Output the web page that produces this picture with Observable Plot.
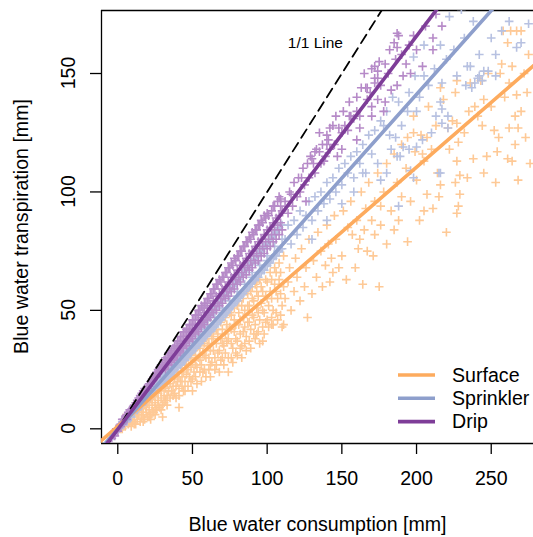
<!DOCTYPE html>
<html><head><meta charset="utf-8">
<script src="https://cdn.jsdelivr.net/npm/d3@7"></script>
<script src="https://cdn.jsdelivr.net/npm/@observablehq/plot@0.6"></script>
<style>body{margin:0;background:#fff}#chart{position:relative;width:533px;height:537px}</style>
</head><body><div id="chart"></div>
<script>
const seriesNames = ["Surface", "Sprinkler", "Drip"];
const lineColors = ["#fdab5e", "#8e9fcc", "#7e3d98"];
const pointColors = ["#fec996", "#b7c1e1", "#b68ac8"];
const xTicks = [0, 50, 100, 150, 200, 250];
const yTicks = [0, 50, 100, 150];
const xDomain = [-10.9, 278.3];
const yDomain = [-6.2, 176.6];
const fitSlopes = [0.547, 0.707, 0.83];
const fitIntercepts = [1.07, -0.2, -0.2];
const oneToOne = [[-20, -20], [300, 300]];
const annotations = [{label: "1/1 Line", x: 132.3, y: 162.7}];
const xTitle = "Blue water consumption [mm]";
const yTitle = "Blue water transpiration [mm]";

const surfacePts = [
[-3,-2],[-1,0],[0,-1],[1,1],[2,0],[3,2],[4,1],[5,3],[5,1],[6,4],[7,2],[8,5],[8,3],[9,1],[10,6],[10,3],[11,5],[12,2],[12,7],[13,4],[14,6],[14,8],[15,3],[16,7],[16,5],[17,9],[18,4],[18,10],[19,7],[20,5],[20,11],[21,8],[22,6],[22,13],[23,10],[24,7],[24,14],[25,11],[26,8],[26,15],[27,12],[28,9],[28,17],[29,13],[30,10],[30,5],[22,4],[25,6],[27,18],[19,12],[13,10],[6,6],[9,7],[16,12],[31,18],
[32,12],[32,17],[32,21],[33,14],[35,13],[35,19],[36,24],[36,16],[38,15],[38,21],[39,26],[39,18],[41,9],[41,17],[41,22],[42,27],[42,20],[44,16],[44,24],[45,29],[45,20],[47,18],[47,25],[48,31],[48,22],[50,16],[50,21],[50,28],[51,33],[51,24],[53,19],[53,26],[54,30],[54,35],[56,20],[56,27],[57,32],[57,37],[57,24],[59,22],[59,30],[60,35],[60,39],[62,22],[62,27],[62,33],[63,38],[63,41],[65,25],[65,30],[66,36],[66,42],[68,24],[68,33],[69,38],[69,45],[69,29],[71,27],[71,35],[72,40],[72,47],[74,24],[74,30],[74,38],[75,43],[75,49],[77,28],[77,34],[78,41],[78,46],[78,51],[80,31],[80,37],[81,44],[81,49],[81,54],[83,30],[83,35],[84,41],[84,47],[84,55],[86,33],[86,39],[87,45],[87,52],[87,57],[89,34],[89,42],[90,48],[90,55],[90,60],[92,38],[92,44],[93,51],[93,58],[93,62],[95,36],[95,46],[96,53],[96,60],[98,40],[98,49],[99,56],[99,63],[99,45],[101,43],[101,52],[102,58],[102,66],[104,44],[104,50],[105,61],[105,68],[107,46],[107,55],[108,63],[108,70],[110,43],[110,52],[111,60],[111,73],
[111,44],[103,44],[93,40],[97,37],[127,47],[142,62],[148,68],[153,63],[159,68],[143,72],[164,61],[175,60],[171,73],[167,75],[161,76],[162,80],[166,93],[176,94],[176,86],[170,88],[157,82],[188,88],[194,79],[202,88],[207,99],[211,93],[216,103],[220,83],[226,104],[227,113],[229,107],[234,106],[229,99],[228,94],[227,91],[247,115],[254,117],[253,104],[268,105],[261,114],[264,113],
[267,168],[263,168],[258,168],[261,163],[270,168],[257,154],[264,153],[256,150],[274,142],[267,141],[266,132],[262,127],[268,127],[273,123],[255,123],[228,121],[227,129],[245,139],[241,132],[235,134],[226,142],[213,128],[221,127],[207,123],[198,125],[194,123],[199,117],[204,116],[216,144],[243,147],[227,147],
[112,55],[114,62],[115,68],[116,50],[118,58],[119,72],[120,64],[122,54],[123,76],[125,60],[126,68],[128,80],[130,57],[131,71],[133,64],[134,83],[136,75],[137,60],[139,69],[140,86],[141,78],[144,66],[145,90],[146,80],[150,73],[151,92],[154,85],[156,96],[160,88],[163,100],[165,84],[168,104],[172,96],[174,108],[178,100],[180,112],[183,92],[185,116],[187,104],[190,120],[193,110],[196,96],[198,132],[200,105],[203,124],[205,113],[208,136],[210,118],[214,108],[218,139],[222,118],[224,130],[232,125],[236,146],[239,136],[244,128],[248,150],[250,136],[252,126],[259,140],[262,146],[266,120],[270,134],[275,158],[276,112],[272,150],[245,108],[238,114],[215,98],[205,92],[185,84],[180,78],[172,82],[190,98]
];
const surfaceDense = [
[3,0],[4,3],[7,4],[9,3],[11,2],[11,8],[13,6],[15,9],[17,6],[17,3],[19,9],[21,5],[21,12],[23,7],[23,13],[25,9],[25,15],[27,10],[27,15],[29,8],[29,16],[31,11],[31,14],[33,10],[33,19],[34,16],[35,22],[37,14],[37,18],[37,23],[39,13],[40,20],[40,24],[41,14],[43,18],[43,22],[43,27],[45,16],[46,23],[46,27],[47,30],[49,20],[49,26],[49,30],[50,34],[52,22],[52,27],[52,31],[53,36],[55,24],[55,29],[55,34],[56,38],[58,25],[58,31],[58,36],[59,40],[61,25],[61,30],[61,36],[61,41],[63,28],[64,33],[64,39],[64,44],[66,27],[67,32],[67,40],[67,45],[70,30],[70,36],[70,42],[70,48],[72,32],[73,37],[73,44],[73,50],[76,30],[76,36],[76,42],[76,48],[79,32],[79,38],[79,44],[80,52],[82,34],[82,40],[82,46],[83,52],[85,36],[85,43],[85,50],[86,58],[88,37],[88,45],[88,52],[89,58],[91,40],[91,47],[91,54],[92,61],[94,41],[94,49],[94,56],[95,63],[97,43],[97,50],[97,58],[100,46],[100,55],[100,62],[103,47],[103,55],[103,63],[106,49],[106,58],[106,66],[109,48],[109,57],[109,66]
];

const sprinklerPts = [
[-3,-3],[-1,-1],[0,0],[1,0],[2,1],[3,3],[4,2],[5,4],[6,3],[7,5],[8,6],[9,5],[10,7],[10,8],[11,7],[12,9],[13,8],[14,10],[15,11],[16,10],[17,12],[18,13],[19,12],[20,14],[21,15],[22,14],[23,16],[24,17],[25,16],[26,19],[27,18],[28,20],[29,19],[30,22],[30,20],
[32,20],[32,24],[34,22],[34,26],[36,23],[36,27],[38,25],[38,29],[40,26],[40,30],[42,27],[42,32],[44,29],[44,34],[46,30],[46,35],[48,32],[48,37],[50,33],[50,38],[52,34],[52,40],[54,36],[54,42],[56,37],[56,43],[58,39],[58,45],[60,40],[60,46],[62,41],[62,48],[64,43],[64,50],[66,44],[66,51],[68,46],[68,53],[70,47],[70,55],[72,49],[72,56],[74,50],[74,58],[76,52],[76,59],[78,53],[78,61],[80,54],[80,62],[82,56],[82,64],[84,57],[84,66],[86,59],[86,67],[88,60],[88,69],[90,62],[90,70],[92,63],[92,72],[94,64],[94,74],[96,66],[96,75],[98,67],[98,77],[100,69],[100,78],[102,70],[102,80],[104,72],[104,82],[106,73],[106,83],[108,75],[108,85],[110,76],[110,86],
[45,31],[55,39],[65,47],[75,54],[85,61],[95,69],[105,77],[35,25],[60,43],[70,51],[80,58],[90,66],[100,73],
[222,174],[230,177],[257,168],[275,171],[267,161],[242,158],[253,158],[236,153],[227,149],[248,151],[253,149],[242,149],[239,146],[244,147],[233,145],[237,144],[217,146],[205,149],[199,149],[198,157],[205,162],[216,162],[217,135],[213,132],[221,132],[217,129],[200,134],[194,134],[186,123],[191,119],[183,118],[189,115],[176,130],[180,134],[234,153],[241,148],[245,151],[216,138],[221,127],[216,108],[200,119],[204,122],[187,115],[198,106],
[112,80],[114,86],[116,78],[118,88],[120,82],[122,92],[124,85],[126,90],[128,96],[130,88],[132,98],[134,92],[136,100],[138,95],[140,104],[142,97],[144,106],[146,100],[148,110],[150,103],[152,112],[154,108],[156,115],[158,106],[160,117],[162,112],[164,120],[166,108],[168,124],[170,116],[172,126],[174,112],[178,128],[182,124],[184,140],[188,138],[190,128],[195,142],[202,140],[208,145],[212,152],[220,156],[225,160],[232,165],[238,172],[250,165],[262,172],[270,163],[210,125],[195,118],[180,108],
[188,94],[215,108],[196,109],[176,105],[164,108],[158,100],[150,95],[140,88],[130,80]
];
const sprinklerDense = [
[3,2],[5,3],[6,5],[8,5],[9,7],[11,9],[12,8],[14,9],[15,12],[17,11],[18,12],[19,14],[21,14],[22,16],[24,15],[25,18],[27,19],[28,18],[29,21],[31,21],[31,23],[33,21],[33,25],[35,23],[37,24],[37,28],[39,26],[39,30],[41,27],[41,31],[43,28],[43,33],[45,29],[45,34],[47,31],[47,36],[49,32],[49,38],[51,34],[51,39],[53,35],[53,41],[55,36],[55,42],[57,38],[57,44],[59,39],[59,46],[61,41],[61,47],[63,42],[63,49],[65,43],[65,51],[67,45],[67,52],[69,46],[69,54],[71,48],[71,56],[73,49],[73,57],[75,51],[75,59],[77,52],[77,60],[79,54],[79,62],[81,55],[81,63],[83,57],[83,65],[85,58],[85,67],[87,60],[87,68],[89,61],[89,70],[91,63],[91,71],[93,64],[93,73],[95,66],[95,74],[97,67],[97,76],[99,69],[99,78],[101,70],[101,79],[103,72],[103,81],[105,73],[105,82],[107,75],[107,84],[109,76],[109,86],[70,49],[80,56],[90,64],[100,71],[60,42],[50,35],[110,80]
];

const dripPts = [
[-4,-4],[-3,-2],[-2,-3],[-1,0],[0,-1],[1,1],[2,2],[3,2],[3,4],[4,3],[5,5],[6,4],[6,6],[7,6],[8,7],[8,8],[9,7],[10,9],[10,8],[11,10],[12,11],[12,9],[13,12],[14,12],[14,13],[15,13],[16,14],[16,15],[17,15],[18,16],[18,17],[19,16],[20,18],[20,17],[21,19],[22,19],[22,20],[23,20],[24,22],[24,21],[25,22],[26,24],[26,22],[27,24],[28,25],[28,26],[29,25],[30,27],[30,26],
[32,25],[32,28],[32,30],[34,27],[34,30],[34,32],[36,28],[36,31],[36,33],[38,29],[38,33],[38,35],[40,31],[40,34],[40,37],[42,32],[42,36],[42,39],[44,34],[44,37],[44,41],[46,35],[46,39],[46,42],[48,37],[48,41],[48,44],[50,38],[50,42],[50,46],[52,40],[52,44],[52,48],[54,41],[54,46],[54,50],[56,43],[56,47],[56,52],[58,44],[58,49],[58,53],[60,46],[60,51],[60,55],[62,47],[62,52],[62,57],[64,49],[64,54],[64,59],[66,50],[66,56],[66,61],[68,52],[68,57],[68,63],[70,53],[70,59],[70,64],[72,55],[72,60],[72,66],[74,56],[74,62],[74,68],[76,58],[76,64],[76,70],[78,59],[78,65],[78,72],[80,61],[80,67],[80,73],[82,62],[82,69],[82,75],[84,64],[84,70],[84,77],[86,65],[86,72],[86,79],[88,67],[88,74],[88,81],[90,68],[90,75],[90,83],[92,70],[92,77],[92,84],[94,71],[94,79],[94,86],[96,73],[96,80],[96,88],[98,74],[98,82],[98,90],[100,76],[100,84],[100,91],[102,77],[102,85],[104,79],[104,87],[104,94],[106,80],[106,89],[108,82],[108,90],[108,98],[110,84],[110,92],
[187,167],[185,163],[179,154],[174,148],[167,144],[211,165],[211,160],[188,166],[187,161],[217,170],[204,153],[193,154],[191,149],[187,145],[183,143],[179,138],[178,134],[156,132],[148,127],[141,122],[135,117],[131,112],[123,106],[116,99],[109,94],[163,144],[167,139],[154,126],[160,122],[147,115],[138,113],[174,139],[176,145],
[172,153],[174,151],[172,148],[166,144],[160,134],[155,132],[170,132],[142,127],[135,125],[140,120],[132,117],[129,115],
[112,96],[114,91],[115,100],[117,94],[118,104],[120,98],[121,106],[122,100],[124,110],[125,103],[126,96],[127,112],[128,106],[130,114],[132,108],[133,118],[136,112],[137,120],[139,115],[140,124],[142,118],[144,128],[145,120],[146,132],[150,125],[151,134],[152,128],[155,138],[158,131],[160,140],[162,132],[165,150],[169,142],[170,152],[172,146],[175,155],[181,150],[182,160],[186,156],[190,158],[195,162],[198,166],[200,160],[206,170],[213,175],[196,150],[162,127],[150,118],[170,136]
];
const dripDense = [
[2,1],[4,4],[5,4],[7,7],[9,8],[11,9],[13,11],[15,14],[17,16],[19,17],[21,18],[23,21],[25,23],[27,25],[29,27],[31,26],[31,29],[33,27],[33,30],[35,29],[35,32],[37,30],[37,34],[39,31],[39,35],[41,33],[41,37],[43,34],[43,39],[45,36],[45,41],[47,38],[47,42],[49,39],[49,44],[51,41],[51,46],[53,42],[53,48],[55,44],[55,50],[57,45],[57,51],[59,47],[59,53],[61,48],[61,55],[63,50],[63,57],[65,52],[65,59],[67,53],[67,61],[69,55],[69,62],[71,56],[71,64],[73,58],[73,66],[75,59],[75,68],[77,61],[77,69],[79,63],[79,71],[81,64],[81,73],[83,66],[83,75],[85,68],[85,77],[87,69],[87,79],[89,71],[89,80],[91,73],[91,82],[93,74],[93,84],[95,76],[95,86],[97,77],[97,87],[99,79],[99,89],[101,80],[101,90],[103,82],[103,92],[105,84],[105,94],[107,86],[107,96],[109,87],[109,97]
];

const pointSets = [surfacePts.concat(surfaceDense), sprinklerPts.concat(sprinklerDense), dripPts.concat(dripDense)];
const font = "'Liberation Sans', Arial, Helvetica, sans-serif";
const fs = 19.6;

const marks = [];
marks.push(Plot.ruleX([xDomain[0]], {stroke: "black", strokeWidth: 1.3}));
marks.push(Plot.ruleY([yDomain[0], yDomain[1]], {stroke: "black", strokeWidth: 1.3}));
marks.push(Plot.axisX({ticks: xTicks, tickSize: 11, tickFormat: () => "", label: null, strokeWidth: 1.3}));
marks.push(Plot.axisY({ticks: yTicks, tickSize: 11, tickFormat: () => "", label: null, strokeWidth: 1.3}));
marks.push(Plot.text(xTicks, {x: d => d, frameAnchor: "bottom", dy: 35, lineAnchor: "middle", text: d => String(d), fontSize: fs, fill: "black"}));
marks.push(Plot.text([xTitle], {frameAnchor: "bottom", dy: 81, lineAnchor: "middle", fontSize: fs, fill: "black"}));

pointSets.forEach((pts, i) => {
  marks.push(Plot.dot(pts, {x: d => d[0], y: d => d[1], symbol: "plus", r: 2.9, stroke: pointColors[i], strokeWidth: 1.6, clip: true}));
});
marks.push(Plot.line(oneToOne, {x: d => d[0], y: d => d[1], stroke: "black", strokeWidth: 1.8, strokeDasharray: "10,6", clip: true}));
seriesNames.forEach((name, i) => {
  const ends = [xDomain[0] - 5, xDomain[1] + 5].map(x => [x, fitSlopes[i] * x + fitIntercepts[i]]);
  marks.push(Plot.line(ends, {x: d => d[0], y: d => d[1], stroke: lineColors[i], strokeWidth: 3.6, clip: true}));
});
marks.push(Plot.text(annotations, {x: "x", y: "y", text: "label", fontSize: 15.5, fill: "black"}));

const chart = Plot.plot({
  width: 533, height: 537,
  marginLeft: 101, marginRight: 0, marginTop: 10, marginBottom: 94,
  x: {domain: xDomain},
  y: {domain: yDomain},
  style: {fontFamily: font, background: "white", overflow: "visible"},
  marks
});
document.getElementById("chart").appendChild(chart);

// rotated y tick labels and title, positioned through Plot's own y scale
const svg = d3.select(chart);
const ys = chart.scale("y");
const g = svg.append("g").attr("font-family", font).attr("font-size", fs).attr("fill", "black").attr("text-anchor", "middle");
yTicks.forEach(v => {
  const py = ys.apply(v);
  g.append("text").attr("transform", `translate(68,${py}) rotate(-90)`).attr("dy", "0.35em").text(String(v));
});
const yMid = (ys.apply(yDomain[0]) + ys.apply(yDomain[1])) / 2;
g.append("text").attr("transform", `translate(21,${yMid}) rotate(-90)`).attr("dy", "0.35em").text(yTitle);

// legend inside the plot area (bottom right)
const lg = svg.append("g").attr("font-family", font).attr("font-size", fs).attr("text-anchor", "start");
seriesNames.forEach((name, i) => {
  const yy = 375 + i * 23.3;
  lg.append("line").attr("x1", 398).attr("x2", 435).attr("y1", yy).attr("y2", yy)
    .attr("stroke", lineColors[i]).attr("stroke-width", 3.6);
  lg.append("text").attr("x", 452).attr("y", yy).attr("dy", "0.35em").attr("fill", "black").text(name);
});
</script>
</body></html>
